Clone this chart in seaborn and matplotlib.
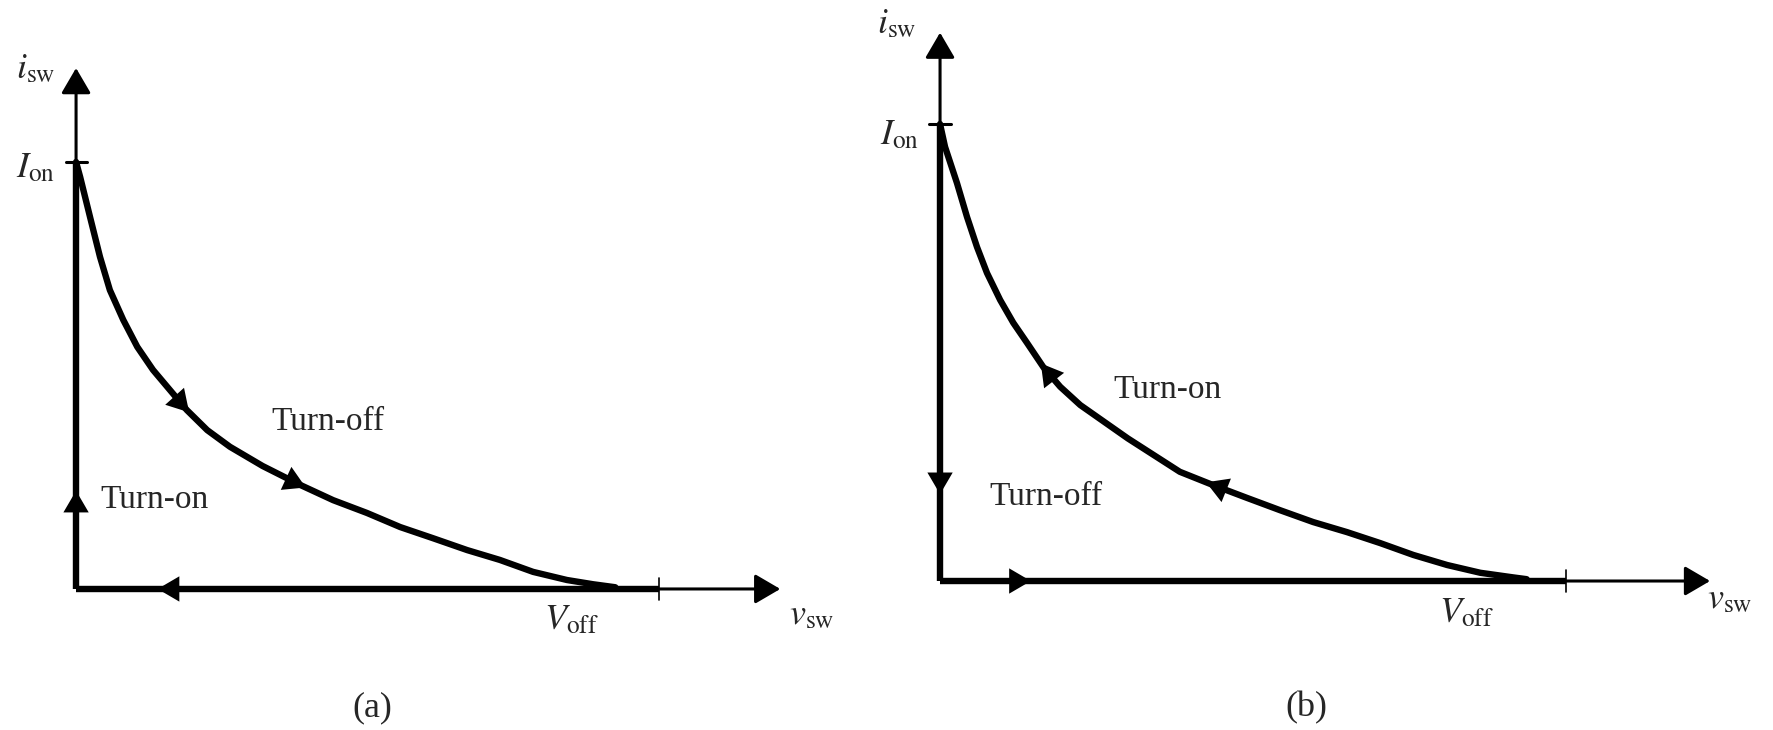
import numpy as np
import pandas as pd
import matplotlib
matplotlib.use("Agg")
import matplotlib.pyplot as plt
import seaborn as sns

# switching trajectories, normalised: v_sw / V_off and i_sw / I_on
curve_a_v = [0.0, 0.007, 0.024, 0.041, 0.058, 0.081, 0.105, 0.132, 0.161, 0.190,
             0.225, 0.264, 0.32, 0.384, 0.441, 0.499, 0.556, 0.612, 0.671, 0.727,
             0.784, 0.842, 0.887, 0.925]
curve_a_i = [1.0, 0.965, 0.871, 0.778, 0.700, 0.630, 0.567, 0.513, 0.466, 0.419,
             0.372, 0.333, 0.288, 0.244, 0.208, 0.178, 0.145, 0.119, 0.091, 0.068,
             0.040, 0.021, 0.011, 0.004]

curve_b_v = [0.0, 0.008, 0.027, 0.043, 0.059, 0.075, 0.096, 0.117, 0.139, 0.165,
             0.192, 0.224, 0.30, 0.383, 0.436, 0.490, 0.543, 0.596, 0.650, 0.703,
             0.756, 0.810, 0.863, 0.915, 0.937]
curve_b_i = [1.0, 0.950, 0.871, 0.797, 0.731, 0.674, 0.615, 0.565, 0.521, 0.468,
             0.425, 0.385, 0.312, 0.239, 0.210, 0.182, 0.155, 0.129, 0.107, 0.083,
             0.057, 0.035, 0.018, 0.008, 0.004]

# where the direction arrows sit (v position along the curve)
arrows_a_v = [0.184, 0.384]
arrows_b_v = [0.171, 0.435]

panel_names = ["(a)", "(b)"]
label_turn_on = "Turn-on"
label_turn_off = "Turn-off"

sns.set_style("white")
plt.rcParams["font.family"] = ["Liberation Serif", "DejaVu Serif"]
plt.rcParams["mathtext.fontset"] = "stix"

fig = plt.figure(figsize=(17.73, 7.30), dpi=100)

THIN = 2.2
THICK = 4.6
head = "-|>,head_length=0.65,head_width=0.38"


def arrowhead(ax, x, y, dx, dy, scale=24):
    # small filled triangle pointing along (dx, dy)
    ax.annotate("", xy=(x + dx, y + dy), xytext=(x, y),
                arrowprops=dict(arrowstyle=head, mutation_scale=scale,
                                lw=0, color="black", shrinkA=0, shrinkB=0),
                annotation_clip=False)


def curve_arrow(ax, vs, ys, v0, sign):
    # place a head on the curve, direction from local slope
    vv = np.asarray(vs)
    yy = np.asarray(ys)
    y0 = np.interp(v0, vv, yy)
    v1 = v0 + sign * 0.01
    y1 = np.interp(v1, vv, yy)
    arrowhead(ax, v0 - (v1 - v0), y0 - (y1 - y0), 2 * (v1 - v0), 2 * (y1 - y0))


def draw_panel(ax, cv, ci, arrows_v, sign, xend, yend, vert_dir, horiz_dir, texts):
    ax.set_xlim(0, 1)
    ax.set_ylim(0, 1)
    ax.axis("off")

    df = pd.DataFrame({"v": cv, "i": ci})
    sns.lineplot(data=df, x="v", y="i", sort=False, color="black",
                 lw=THICK, ax=ax, clip_on=False)

    # thick part of the axes (the loop), thin part out to the arrow tips
    ax.plot([0, 0], [0, 1], color="black", lw=THICK, clip_on=False, solid_capstyle="butt")
    ax.plot([0, 1], [0, 0], color="black", lw=THICK, clip_on=False, solid_capstyle="butt")
    ax.annotate("", xy=(0, yend), xytext=(0, 0.98),
                arrowprops=dict(arrowstyle=head, mutation_scale=24, lw=THIN,
                                color="black", shrinkA=0, shrinkB=0),
                annotation_clip=False)
    ax.annotate("", xy=(xend, 0), xytext=(0.98, 0),
                arrowprops=dict(arrowstyle=head, mutation_scale=24, lw=THIN,
                                color="black", shrinkA=0, shrinkB=0),
                annotation_clip=False)

    # I_on and V_off ticks
    ax.plot([-0.018, 0.018], [1, 1], color="black", lw=THIN, clip_on=False)
    ax.plot([1, 1], [-0.025, 0.025], color="black", lw=1.2, clip_on=False)

    for v0 in arrows_v:
        curve_arrow(ax, cv, ci, v0, sign)
    arrowhead(ax, 0, vert_dir[0], 0, vert_dir[1])
    arrowhead(ax, horiz_dir[0], 0, horiz_dir[1], 0)

    for (tx, ty, s, fs) in texts:
        ax.text(tx, ty, s, fontsize=fs, ha="center", va="center", clip_on=False)


ax_a = fig.add_axes([0.0429, 0.1932, 0.3288, 0.5849])
draw_panel(ax_a, curve_a_v, curve_a_i, arrows_a_v, +1, 1.208, 1.22,
           (0.20, 0.03), (0.17, -0.03),
           [(-0.07, 1.215, r"$i_{\rm sw}$", 26),
            (-0.07, 0.985, r"$I_{\rm on}$", 26),
            (0.849, -0.075, r"$V_{\rm off}$", 26),
            (1.262, -0.063, r"$v_{\rm sw}$", 26),
            (0.432, 0.391, label_turn_off, 24),
            (0.135, 0.208, label_turn_on, 24)])

ax_b = fig.add_axes([0.5302, 0.2041, 0.3531, 0.626])
draw_panel(ax_b, curve_b_v, curve_b_i, arrows_b_v, -1, 1.23, 1.20,
           (0.22, -0.03), (0.115, 0.03),
           [(-0.069, 1.217, r"$i_{\rm sw}$", 26),
            (-0.065, 0.975, r"$I_{\rm on}$", 26),
            (0.84, -0.072, r"$V_{\rm off}$", 26),
            (1.262, -0.04, r"$v_{\rm sw}$", 26),
            (0.363, 0.418, label_turn_on, 24),
            (0.169, 0.184, label_turn_off, 24)])

fig.text(0.21, 0.03, panel_names[0], fontsize=26, ha="center", va="center")
fig.text(0.7366, 0.03, panel_names[1], fontsize=26, ha="center", va="center")

fig.savefig("out.png", dpi=100)
